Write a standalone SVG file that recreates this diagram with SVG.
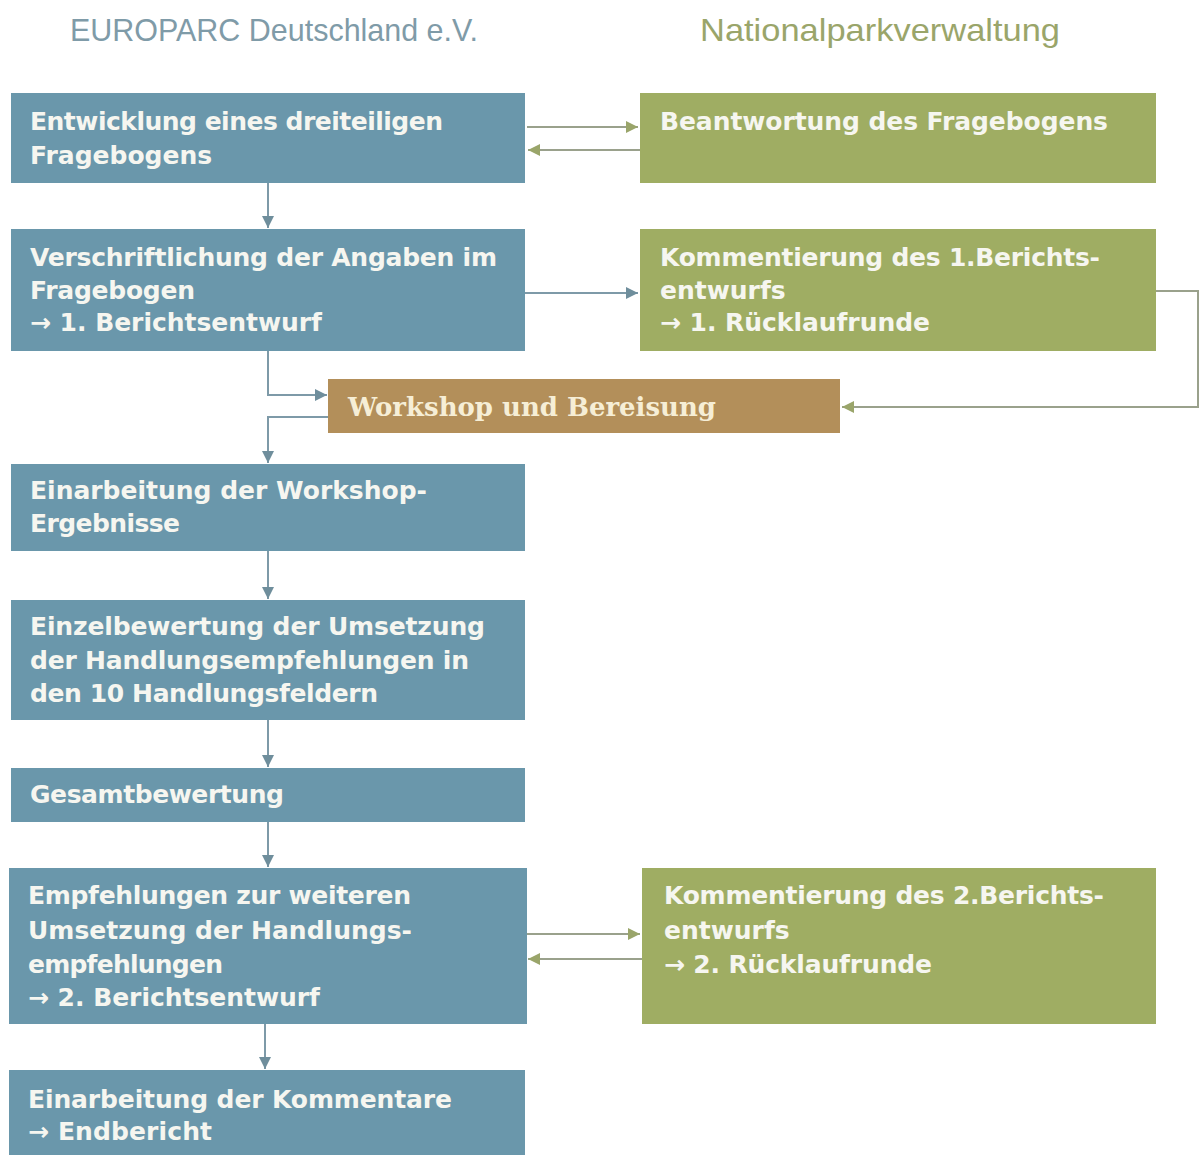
<svg xmlns="http://www.w3.org/2000/svg" width="1201" height="1155" viewBox="0 0 1201 1155">
<defs>
<style>
.blue{fill:#6A97AB}
.green{fill:#9FAD63}
.ws{fill:#B38F5A}
.t{font-family:"DejaVu Sans",Verdana,sans-serif;font-weight:bold;font-size:25px;fill:#F6F6F0}
.ts{font-family:"DejaVu Serif","Liberation Serif",serif;font-weight:bold;font-size:26px;fill:#F6EED6}
.h{font-family:"Liberation Sans",Arial,sans-serif;font-size:32px}
.cb{fill:none;stroke:#7E9AA8;stroke-width:2}
.cg{fill:none;stroke:#9AA18C;stroke-width:2}
</style>
<marker id="ab" viewBox="0 0 10 10" refX="10" refY="5" markerWidth="6" markerHeight="6" orient="auto" markerUnits="strokeWidth"><path d="M0,0 L10,5 L0,10 z" fill="#6F8E9C"/></marker>
<marker id="ag" viewBox="0 0 10 10" refX="10" refY="5" markerWidth="6" markerHeight="6" orient="auto" markerUnits="strokeWidth"><path d="M0,0 L10,5 L0,10 z" fill="#9AA56A"/></marker>
</defs>
<rect width="1201" height="1155" fill="#FFFFFF"/>
<g id="headers">
<text class="h" x="70" y="41" fill="#7F9BA8" textLength="408" lengthAdjust="spacingAndGlyphs">EUROPARC Deutschland e.V.</text>
<text class="h" x="700" y="41" fill="#9AA56A" textLength="360" lengthAdjust="spacingAndGlyphs">Nationalparkverwaltung</text>
</g>
<g id="connectors">
<line class="cg" x1="527" y1="127" x2="638" y2="127" marker-end="url(#ag)"/>
<line class="cg" x1="640" y1="150" x2="528" y2="150" marker-end="url(#ag)"/>
<line class="cb" x1="268" y1="183" x2="268" y2="228" marker-end="url(#ab)"/>
<line class="cb" x1="525" y1="293" x2="638" y2="293" marker-end="url(#ab)"/>
<polyline class="cb" points="268,351 268,395 327,395" marker-end="url(#ab)"/>
<polyline class="cb" points="328,417 268,417 268,463" marker-end="url(#ab)"/>
<polyline class="cg" points="1156,291 1198,291 1198,407 842,407" marker-end="url(#ag)"/>
<line class="cb" x1="268" y1="551" x2="268" y2="599" marker-end="url(#ab)"/>
<line class="cb" x1="268" y1="720" x2="268" y2="767" marker-end="url(#ab)"/>
<line class="cb" x1="268" y1="822" x2="268" y2="867" marker-end="url(#ab)"/>
<line class="cg" x1="527" y1="934" x2="640" y2="934" marker-end="url(#ag)"/>
<line class="cg" x1="642" y1="959" x2="528" y2="959" marker-end="url(#ag)"/>
<line class="cb" x1="265" y1="1024" x2="265" y2="1069" marker-end="url(#ab)"/>
</g>
<g id="n1"><rect class="blue" x="11" y="93" width="514" height="90"/>
<text class="t" x="30" y="130" textLength="413">Entwicklung eines dreiteiligen</text>
<text class="t" x="30" y="164">Fragebogens</text></g>
<g id="g1"><rect class="green" x="640" y="93" width="516" height="90"/>
<text class="t" x="660" y="130" textLength="448">Beantwortung des Fragebogens</text></g>
<g id="n2"><rect class="blue" x="11" y="229" width="514" height="122"/>
<text class="t" x="30" y="266" textLength="467">Verschriftlichung der Angaben im</text>
<text class="t" x="30" y="299" textLength="165">Fragebogen</text>
<text class="t" x="30" y="331" textLength="292">→ 1. Berichtsentwurf</text></g>
<g id="g2"><rect class="green" x="640" y="229" width="516" height="122"/>
<text class="t" x="660" y="266" textLength="440">Kommentierung des 1.Berichts-</text>
<text class="t" x="660" y="299">entwurfs</text>
<text class="t" x="660" y="331" textLength="270">→ 1. Rücklaufrunde</text></g>
<g id="ws"><rect class="ws" x="328" y="379" width="512" height="54"/>
<text class="ts" x="348" y="416" textLength="368">Workshop und Bereisung</text></g>
<g id="n3"><rect class="blue" x="11" y="464" width="514" height="87"/>
<text class="t" x="30" y="499" textLength="397">Einarbeitung der Workshop-</text>
<text class="t" x="30" y="532" textLength="150">Ergebnisse</text></g>
<g id="n4"><rect class="blue" x="11" y="600" width="514" height="120"/>
<text class="t" x="30" y="635" textLength="455">Einzelbewertung der Umsetzung</text>
<text class="t" x="30" y="669" textLength="439">der Handlungsempfehlungen in</text>
<text class="t" x="30" y="702" textLength="348">den 10 Handlungsfeldern</text></g>
<g id="n5"><rect class="blue" x="11" y="768" width="514" height="54"/>
<text class="t" x="30" y="803" textLength="254">Gesamtbewertung</text></g>
<g id="n6"><rect class="blue" x="9" y="868" width="518" height="156"/>
<text class="t" x="28" y="904" textLength="383">Empfehlungen zur weiteren</text>
<text class="t" x="28" y="939" textLength="384">Umsetzung der Handlungs-</text>
<text class="t" x="28" y="973" textLength="195">empfehlungen</text>
<text class="t" x="28" y="1006" textLength="292">→ 2. Berichtsentwurf</text></g>
<g id="g3"><rect class="green" x="642" y="868" width="514" height="156"/>
<text class="t" x="664" y="904" textLength="440">Kommentierung des 2.Berichts-</text>
<text class="t" x="664" y="939">entwurfs</text>
<text class="t" x="664" y="973" textLength="268">→ 2. Rücklaufrunde</text></g>
<g id="n7"><rect class="blue" x="9" y="1070" width="516" height="85"/>
<text class="t" x="28" y="1108" textLength="424">Einarbeitung der Kommentare</text>
<text class="t" x="28" y="1140" textLength="184">→ Endbericht</text></g>
</svg>
